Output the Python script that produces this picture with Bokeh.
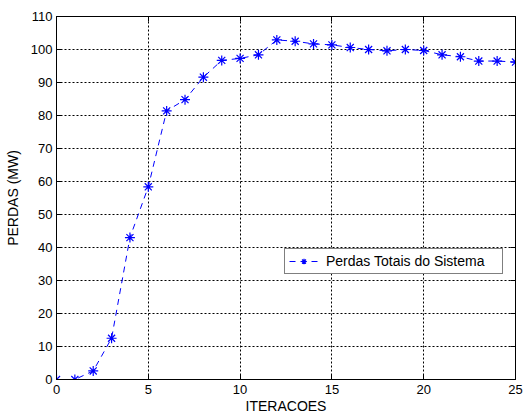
from bokeh.plotting import figure
from bokeh.models import (LinearAxis, Range1d, FixedTicker, Legend, LegendItem,
                          CustomLabelingPolicy)
from bokeh.embed import file_html
from bokeh.resources import INLINE

iteracoes = list(range(0, 26))
perdas = [0.0, 0.0, 2.6, 12.5, 43.0, 58.4, 81.4, 84.8, 91.6, 96.7, 97.3, 98.4,
          102.9, 102.5, 101.7, 101.4, 100.6, 100.0, 99.6, 100.0, 99.7, 98.4,
          97.8, 96.5, 96.5, 96.2]
x_ticks = [0, 5, 10, 15, 20, 25]
y_ticks = [0, 10, 20, 30, 40, 50, 60, 70, 80, 90, 100, 110]
serie_nome = "Perdas Totais do Sistema"
x_label = "ITERACOES"
y_label = "PERDAS (MW)"

FONT = "Liberation Sans"
FS_TICK = "13px"
FS = "14px"

p = figure(frame_width=459, frame_height=363, output_backend="svg",
           toolbar_location=None, x_range=Range1d(0, 25), y_range=Range1d(0, 110),
           min_border_left=56, min_border_bottom=35, min_border_top=16, min_border_right=8)
p.background_fill_color = "white"
p.border_fill_color = "white"
p.outline_line_color = "black"
p.outline_line_width = 1

for ax in (p.xaxis[0], p.yaxis[0]):
    ax.major_tick_in = 5
    ax.major_tick_out = 0
    ax.minor_tick_in = 0
    ax.minor_tick_out = 0
    ax.axis_line_color = "black"
    ax.major_tick_line_color = "black"
    ax.major_label_text_font = FONT
    ax.major_label_text_font_size = FS_TICK
    ax.major_label_text_color = "black"
    ax.axis_label_text_font = FONT
    ax.axis_label_text_font_size = FS
    ax.axis_label_text_font_style = "normal"
    ax.axis_label_text_color = "black"

p.xaxis[0].ticker = FixedTicker(ticks=x_ticks)
p.yaxis[0].ticker = FixedTicker(ticks=y_ticks)
p.xaxis[0].axis_label = x_label
p.yaxis[0].axis_label = y_label
p.xaxis[0].major_label_standoff = 5
p.xaxis[0].axis_label_standoff = 1
p.yaxis[0].major_label_standoff = 4
p.yaxis[0].axis_label_standoff = 7

for loc, tk in (("right", y_ticks), ("above", x_ticks)):
    ax = LinearAxis(ticker=FixedTicker(ticks=tk), major_tick_in=5, major_tick_out=0,
                    minor_tick_in=0, minor_tick_out=0,
                    major_label_policy=CustomLabelingPolicy(code="return []"),
                    major_label_standoff=0, axis_line_color="black",
                    major_tick_line_color="black")
    p.add_layout(ax, loc)

p.xgrid.ticker = FixedTicker(ticks=x_ticks)
p.ygrid.ticker = FixedTicker(ticks=y_ticks)
for g in (p.xgrid[0], p.ygrid[0]):
    g.grid_line_color = "black"
    g.grid_line_dash = "2 2"
    g.grid_line_width = 1
    g.grid_line_alpha = 1.0

ln = p.line(iteracoes, perdas, line_color="#0000FF", line_width=1, line_dash="6 5")
sc = p.scatter(iteracoes, perdas, marker="asterisk", size=10, line_color="#0000FF",
               line_width=1.2)

legend = Legend(items=[LegendItem(label=serie_nome, renderers=[ln, sc])],
                location=(228, 105), orientation="vertical")
legend.label_text_font = FONT
legend.label_text_font_size = FS
legend.label_text_color = "black"
legend.border_line_color = "black"
legend.border_line_width = 1
legend.background_fill_color = "white"
legend.background_fill_alpha = 1.0
legend.padding = 4
legend.margin = 0
legend.glyph_width = 29
legend.glyph_height = 14
legend.label_standoff = 8
legend.label_height = 14
legend.label_width = 172
legend.spacing = 0
p.add_layout(legend, "center")

open("out.html", "w").write(file_html(p, INLINE))
